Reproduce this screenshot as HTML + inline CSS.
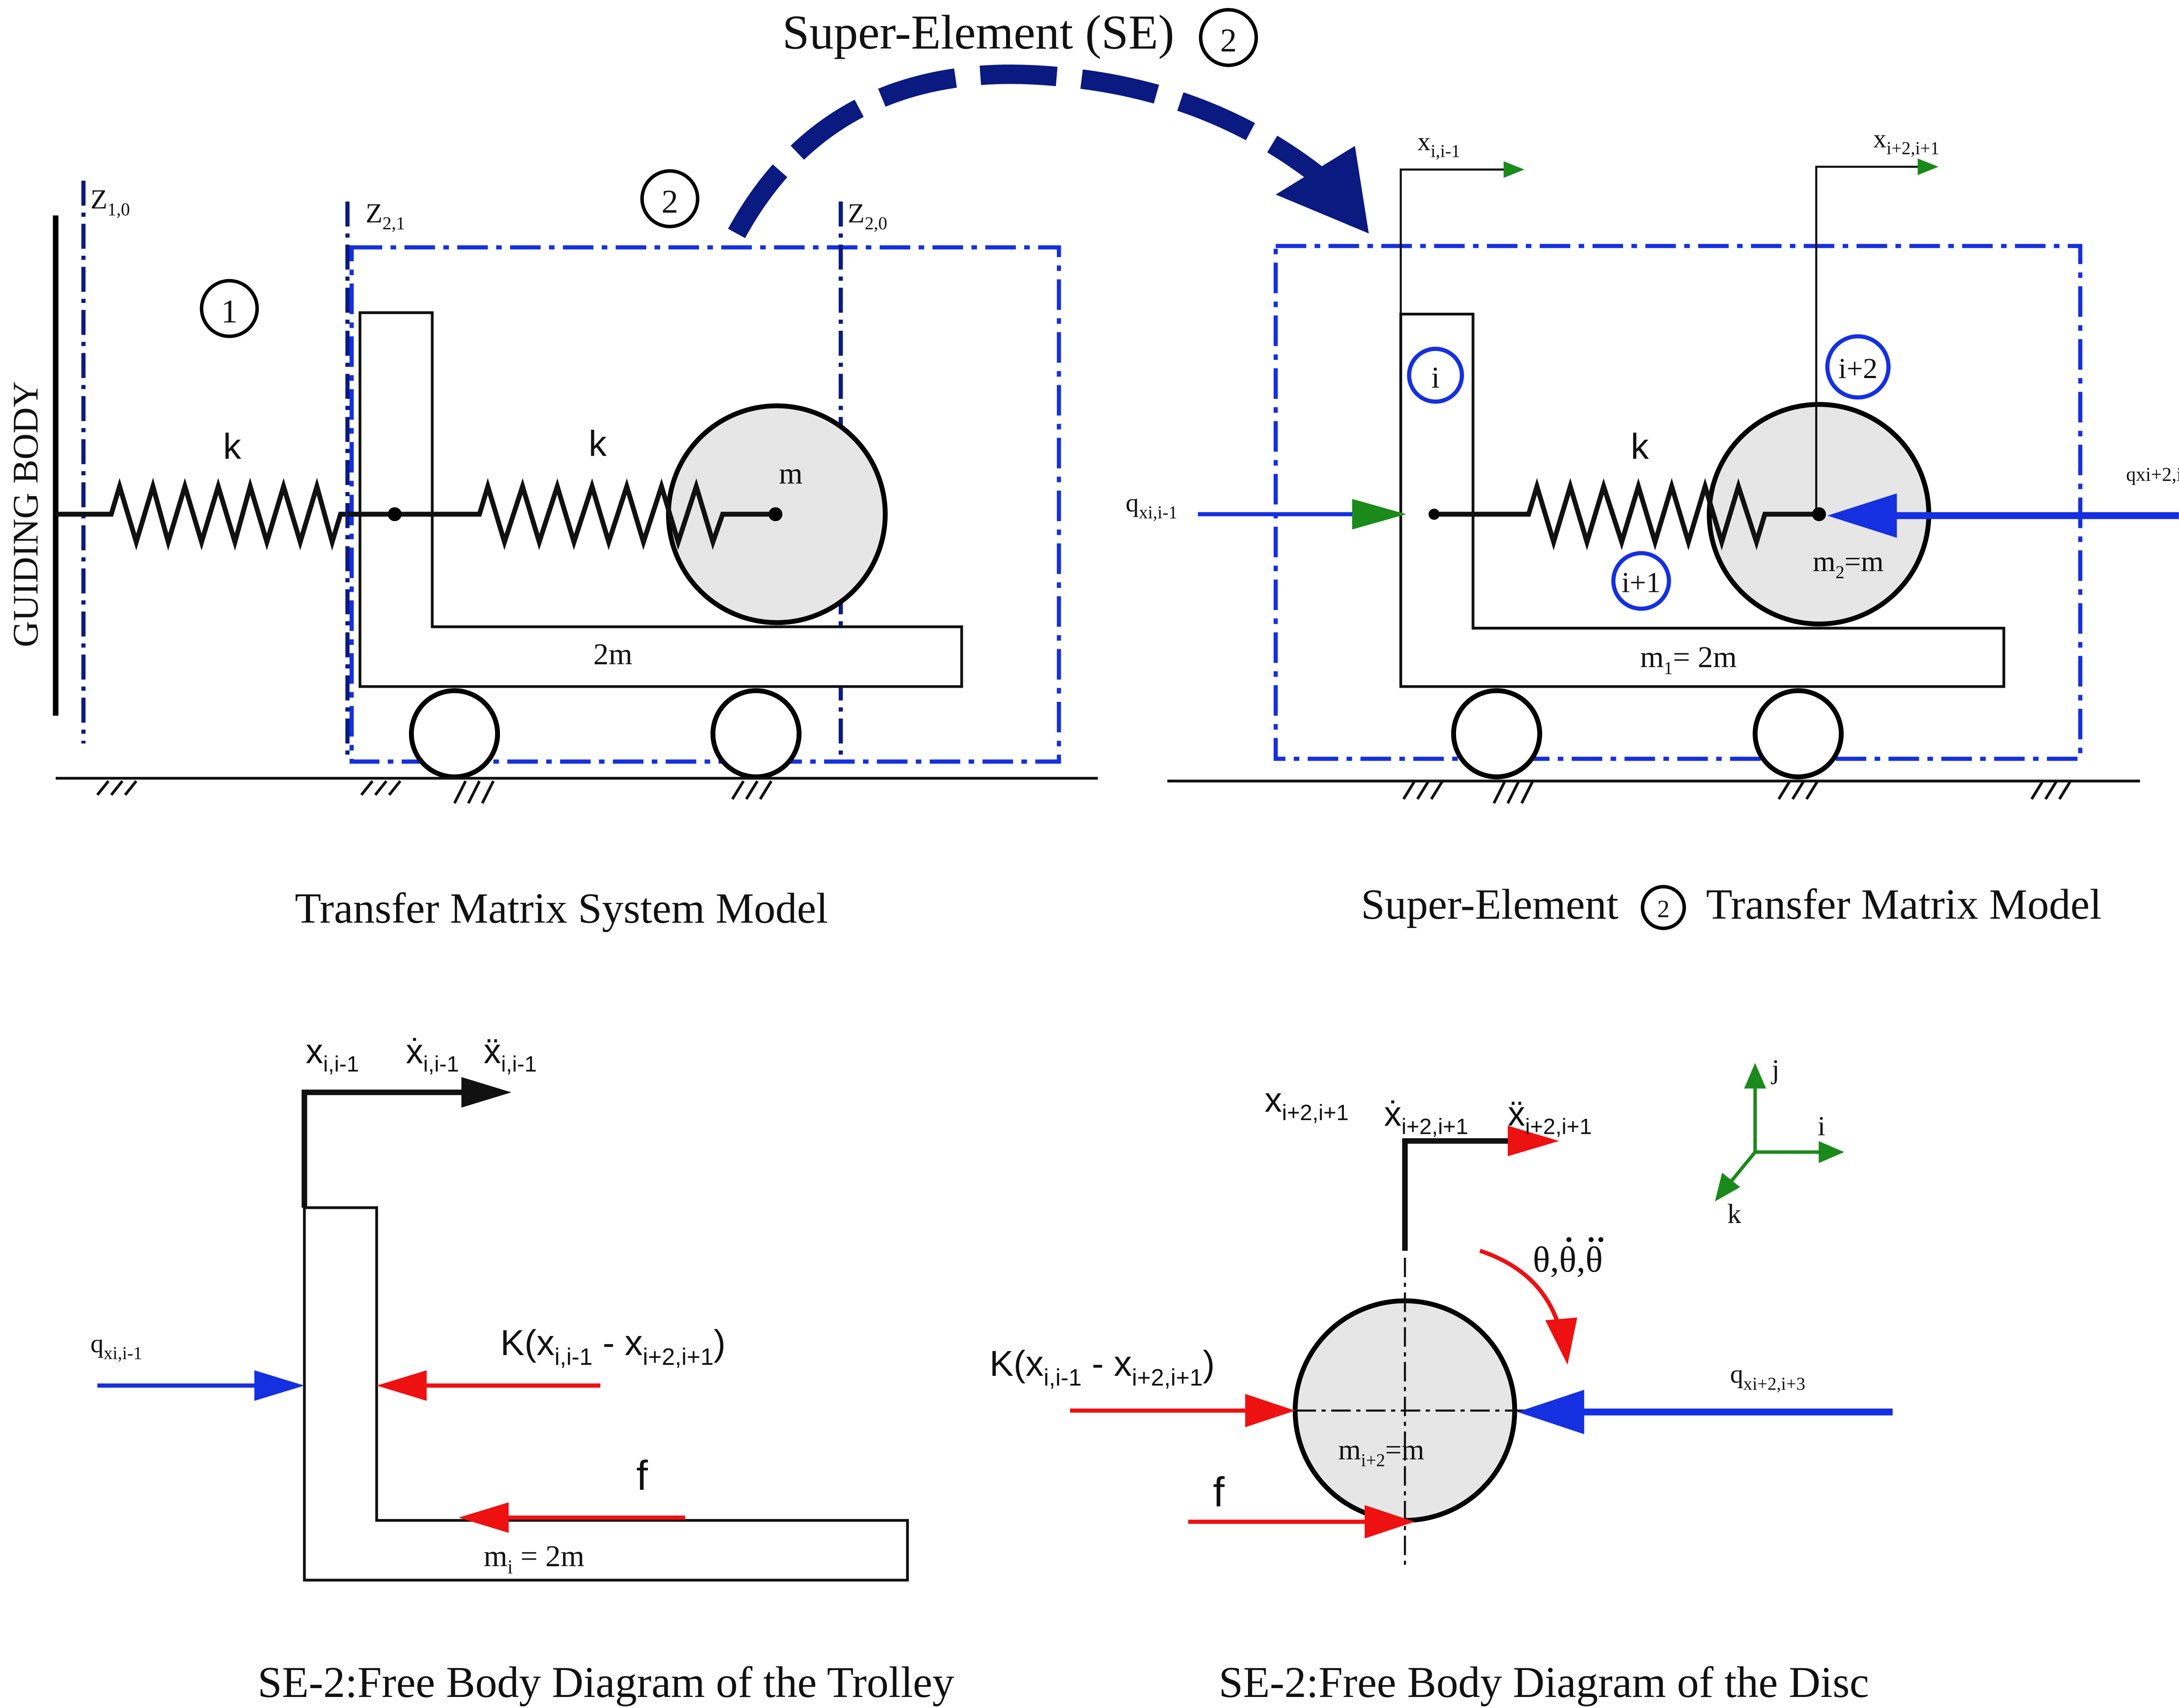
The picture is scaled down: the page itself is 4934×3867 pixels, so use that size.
<!DOCTYPE html>
<html><head><meta charset="utf-8"><style>
html,body{margin:0;padding:0;background:#fff}
svg{display:block}
text{font-family:"Liberation Serif",serif;fill:#111}
.s{font-family:"Liberation Sans",sans-serif}
</style></head><body>
<svg width="4934" height="3867" viewBox="0 0 1568 1229" xmlns="http://www.w3.org/2000/svg">
<rect width="1568" height="1229" fill="#fff"/>

<!-- Title -->
<text x="704" y="35" font-size="35" text-anchor="middle">Super-Element (SE)</text>
<circle cx="884" cy="27" r="20" fill="none" stroke="#000" stroke-width="2.5"/>
<text x="884" y="37" font-size="24" text-anchor="middle">2</text>
<path d="M530,168 Q600,40 760,55 Q880,65 965,140" fill="none" stroke="#0a1a80" stroke-width="14" stroke-dasharray="55,18"/>
<path d="M918,140 L985,168 L975,105 z" fill="#0a1a80"/>

<!-- ====== TOP LEFT ====== -->
<line x1="40" y1="155" x2="40" y2="515" stroke="#000" stroke-width="4"/>
<text transform="translate(27,370) rotate(-90)" font-size="26" text-anchor="middle">GUIDING  BODY</text>
<line x1="60" y1="130" x2="60" y2="535" stroke="#0a1a80" stroke-width="3" stroke-dasharray="18,5,3,5"/>
<text x="65" y="150" font-size="20">Z<tspan font-size="13" dy="5">1,0</tspan></text>
<polyline points="40,370 80,370 86,350 98,390 110,350 121,390 133,350 145,390 157,350 169,390 180,350 192,390 204,350 216,390 228,350 239,390 245,370 250,370" fill="none" stroke="#111" stroke-width="3.5"/>
<text x="167" y="330" font-size="26" class="s" text-anchor="middle">k</text>
<circle cx="165" cy="222" r="20" fill="none" stroke="#000" stroke-width="2.5"/>
<text x="165" y="232" font-size="24" text-anchor="middle">1</text>
<line x1="250" y1="145" x2="250" y2="548" stroke="#0a1a80" stroke-width="3" stroke-dasharray="18,5,3,5"/>
<text x="263" y="160" font-size="20">Z<tspan font-size="13" dy="5">2,1</tspan></text>
<rect x="253" y="178" width="509" height="370" fill="none" stroke="#1530e0" stroke-width="3" stroke-dasharray="22,6,4,6"/>
<line x1="605" y1="145" x2="605" y2="548" stroke="#0a1a80" stroke-width="3" stroke-dasharray="18,5,3,5"/>
<text x="610" y="160" font-size="20">Z<tspan font-size="13" dy="5">2,0</tspan></text>
<circle cx="482" cy="143" r="20" fill="none" stroke="#000" stroke-width="2.5"/>
<text x="482" y="153" font-size="24" text-anchor="middle">2</text>
<path d="M259,225 L311,225 L311,451 L692,451 L692,494 L259,494 Z" fill="#fff" stroke="#111" stroke-width="2"/>
<circle cx="559" cy="370" r="78" fill="#e6e6e6" stroke="#000" stroke-width="3.5"/>
<polyline points="250,370 345,370 351,350 363,390 376,350 388,390 401,350 413,390 426,350 438,390 451,350 463,390 476,350 488,390 501,350 513,390 520,370 558,370" fill="none" stroke="#111" stroke-width="3.5"/>
<circle cx="284" cy="370" r="5" fill="#000"/>
<circle cx="558" cy="370" r="5" fill="#000"/>
<text x="430" y="328" font-size="26" class="s" text-anchor="middle">k</text>
<text x="569" y="348" font-size="22" text-anchor="middle">m</text>
<text x="441" y="478" font-size="22" text-anchor="middle">2m</text>
<circle cx="327" cy="528" r="31" fill="#fff" stroke="#000" stroke-width="3.5"/>
<circle cx="544" cy="528" r="31" fill="#fff" stroke="#000" stroke-width="3.5"/>
<line x1="40" y1="560" x2="790" y2="560" stroke="#111" stroke-width="2"/>
<g stroke="#111" stroke-width="2">
<path d="M70,572 l8,-10 M80,572 l8,-10 M90,572 l8,-10 M260,572 l8,-10 M270,572 l8,-10 M280,572 l8,-10 M327,578 l8,-16 M337,578 l8,-16 M347,578 l8,-16 M527,575 l8,-13 M537,575 l8,-13 M547,575 l8,-13"/>
</g>
<text x="404" y="664" font-size="31" text-anchor="middle">Transfer Matrix System Model</text>

<!-- ====== TOP RIGHT ====== -->
<rect x="918" y="177" width="579" height="369" fill="none" stroke="#1530e0" stroke-width="3" stroke-dasharray="22,6,4,6"/>
<path d="M1008,226 L1060,226 L1060,452 L1442,452 L1442,494 L1008,494 Z" fill="#fff" stroke="#111" stroke-width="2"/>
<polyline points="1008,226 1008,122 1085,122" fill="none" stroke="#111" stroke-width="1.5"/>
<path d="M1082,116 L1097,122 L1082,128 z" fill="#1a8a1a"/>
<text x="1020" y="108" font-size="19">x<tspan font-size="13" dy="5">i,i-1</tspan></text>
<circle cx="1309" cy="370" r="79" fill="#e6e6e6" stroke="#000" stroke-width="3.5"/>
<polyline points="1307,370 1307,120 1383,120" fill="none" stroke="#111" stroke-width="1.5"/>
<path d="M1380,114 L1395,120 L1380,126 z" fill="#1a8a1a"/>
<text x="1348" y="106" font-size="19">x<tspan font-size="13" dy="5">i+2,i+1</tspan></text>
<polyline points="1030,370 1100,370 1106,350 1118,390 1130,350 1142,390 1154,350 1167,390 1179,350 1191,390 1203,350 1215,390 1227,350 1239,390 1251,350 1264,390 1270,370 1309,370" fill="none" stroke="#111" stroke-width="3.5"/>
<circle cx="1032" cy="370" r="4" fill="#000"/>
<circle cx="1309" cy="370" r="5" fill="#000"/>
<circle cx="1033" cy="270" r="19" fill="none" stroke="#1530e0" stroke-width="3"/>
<text x="1033" y="279" font-size="22" text-anchor="middle">i</text>
<circle cx="1337" cy="264" r="22" fill="none" stroke="#1530e0" stroke-width="3"/>
<text x="1337" y="272" font-size="21" text-anchor="middle">i+2</text>
<circle cx="1181" cy="418" r="20" fill="none" stroke="#1530e0" stroke-width="3"/>
<text x="1181" y="426" font-size="21" text-anchor="middle">i+1</text>
<text x="1180" y="330" font-size="26" class="s" text-anchor="middle">k</text>
<text x="1330" y="411" font-size="21" text-anchor="middle">m<tspan font-size="13" dy="5">2</tspan><tspan dy="-5">=m</tspan></text>
<text x="1215" y="480" font-size="22" text-anchor="middle">m<tspan font-size="13" dy="5">1</tspan><tspan dy="-5">= 2m</tspan></text>
<line x1="862" y1="370" x2="980" y2="370" stroke="#1530e0" stroke-width="3"/>
<path d="M973,359 L1012,370 L973,381 z" fill="#1a8a1a"/>
<text x="810" y="368" font-size="19">q<tspan font-size="13" dy="5">xi,i-1</tspan></text>
<line x1="1360" y1="371" x2="1568" y2="371" stroke="#1530e0" stroke-width="5"/>
<path d="M1365,355 L1315,371 L1365,387 z" fill="#1530e0"/>
<text x="1530" y="346" font-size="14">qxi+2,i+1</text>
<circle cx="1077" cy="528" r="31" fill="#fff" stroke="#000" stroke-width="3.5"/>
<circle cx="1294" cy="528" r="31" fill="#fff" stroke="#000" stroke-width="3.5"/>
<line x1="840" y1="562" x2="1540" y2="562" stroke="#111" stroke-width="2"/>
<g stroke="#111" stroke-width="2">
<path d="M1010,575 l8,-13 M1020,575 l8,-13 M1030,575 l8,-13 M1075,578 l8,-16 M1085,578 l8,-16 M1095,578 l8,-16 M1280,575 l8,-13 M1290,575 l8,-13 M1300,575 l8,-13 M1462,575 l8,-13 M1472,575 l8,-13 M1482,575 l8,-13"/>
</g>
<text x="1072" y="661" font-size="31" text-anchor="middle">Super-Element</text>
<circle cx="1197" cy="653" r="15" fill="none" stroke="#000" stroke-width="2.5"/>
<text x="1197" y="660" font-size="18" text-anchor="middle">2</text>
<text x="1370" y="661" font-size="31" text-anchor="middle">Transfer Matrix Model</text>

<!-- ====== BOTTOM LEFT ====== -->
<path d="M219,869 L271,869 L271,1094 L653,1094 L653,1137 L219,1137 Z" fill="#fff" stroke="#111" stroke-width="2"/>
<polyline points="219,869 219,786 340,786" fill="none" stroke="#111" stroke-width="4"/>
<path d="M332,775 L368,786 L332,797 z" fill="#111"/>
<text x="220" y="765" font-size="25" class="s">x<tspan font-size="16" dy="6">i,i-1</tspan></text>
<text x="292" y="765" font-size="25" class="s">ẋ<tspan font-size="16" dy="6">i,i-1</tspan></text>
<text x="348" y="765" font-size="25" class="s">ẍ<tspan font-size="16" dy="6">i,i-1</tspan></text>
<text x="65" y="973" font-size="19">q<tspan font-size="13" dy="5">xi,i-1</tspan></text>
<line x1="70" y1="997" x2="190" y2="997" stroke="#1530e0" stroke-width="3"/>
<path d="M183,986 L219,997 L183,1008 z" fill="#1530e0"/>
<text x="360" y="975" font-size="26" class="s">K(x<tspan font-size="17" dy="7">i,i-1</tspan><tspan dy="-7"> - x</tspan><tspan font-size="17" dy="7">i+2,i+1</tspan><tspan dy="-7">)</tspan></text>
<line x1="300" y1="997" x2="432" y2="997" stroke="#ee1111" stroke-width="3"/>
<path d="M307,986 L271,997 L307,1008 z" fill="#ee1111"/>
<text x="462" y="1072" font-size="30" class="s" text-anchor="middle">f</text>
<line x1="360" y1="1092" x2="493" y2="1092" stroke="#ee1111" stroke-width="3"/>
<path d="M366,1081 L330,1092 L366,1103 z" fill="#ee1111"/>
<text x="348" y="1127" font-size="22">m<tspan font-size="14" dy="5">i</tspan><tspan dy="-5"> = 2m</tspan></text>
<text x="436" y="1221" font-size="31.5" text-anchor="middle">SE-2:Free Body Diagram of the Trolley</text>

<!-- ====== BOTTOM RIGHT ====== -->
<circle cx="1011" cy="1015" r="79" fill="#e6e6e6" stroke="#000" stroke-width="3.5"/>
<line x1="1011" y1="905" x2="1011" y2="1130" stroke="#111" stroke-width="1.5" stroke-dasharray="14,4,3,4"/>
<line x1="908" y1="1015" x2="1115" y2="1015" stroke="#111" stroke-width="1.5" stroke-dasharray="14,4,3,4"/>
<polyline points="1011,900 1011,821 1090,821" fill="none" stroke="#111" stroke-width="4"/>
<path d="M1085,810 L1122,821 L1085,832 z" fill="#ee1111"/>
<text x="910" y="800" font-size="25" class="s">x<tspan font-size="16" dy="6">i+2,i+1</tspan></text>
<text x="996" y="810" font-size="25" class="s">ẋ<tspan font-size="16" dy="6">i+2,i+1</tspan></text>
<text x="1085" y="810" font-size="25" class="s">ẍ<tspan font-size="16" dy="6">i+2,i+1</tspan></text>
<path d="M1065,900 Q1110,915 1122,955" fill="none" stroke="#ee1111" stroke-width="3"/>
<path d="M1112,950 L1128,982 L1135,948 z" fill="#ee1111"/>
<text x="1103" y="915" font-size="26">θ,θ,θ</text>
<circle cx="1129" cy="892" r="1.8" fill="#111"/>
<circle cx="1145" cy="892" r="1.8" fill="#111"/>
<circle cx="1152" cy="892" r="1.8" fill="#111"/>
<g stroke="#1a8a1a" stroke-width="2.5" fill="#1a8a1a">
<line x1="1263" y1="829" x2="1263" y2="780"/><path d="M1257,782 L1263,768 L1269,782 z"/>
<line x1="1263" y1="829" x2="1312" y2="829"/><path d="M1310,823 L1324,829 L1310,835 z"/>
<line x1="1263" y1="829" x2="1245" y2="851"/><path d="M1240,846 L1236,862 L1250,854 z"/>
</g>
<text x="1275" y="776" font-size="20">j</text>
<text x="1308" y="817" font-size="20">i</text>
<text x="1243" y="880" font-size="20">k</text>
<text x="712" y="990" font-size="26" class="s">K(x<tspan font-size="17" dy="7">i,i-1</tspan><tspan dy="-7"> - x</tspan><tspan font-size="17" dy="7">i+2,i+1</tspan><tspan dy="-7">)</tspan></text>
<line x1="770" y1="1015" x2="900" y2="1015" stroke="#ee1111" stroke-width="3"/>
<path d="M896,1003 L932,1015 L896,1027 z" fill="#ee1111"/>
<text x="1245" y="995" font-size="19">q<tspan font-size="13" dy="5">xi+2,i+3</tspan></text>
<line x1="1135" y1="1016" x2="1362" y2="1016" stroke="#1530e0" stroke-width="5"/>
<path d="M1140,1000 L1092,1016 L1140,1032 z" fill="#1530e0"/>
<text x="877" y="1084" font-size="30" class="s" text-anchor="middle">f</text>
<line x1="855" y1="1095" x2="985" y2="1095" stroke="#ee1111" stroke-width="3"/>
<path d="M982,1083 L1018,1095 L982,1107 z" fill="#ee1111"/>
<text x="963" y="1050" font-size="21">m<tspan font-size="13" dy="5">i+2</tspan><tspan dy="-5">=m</tspan></text>
<text x="1111" y="1221" font-size="31.5" text-anchor="middle">SE-2:Free Body Diagram of the Disc</text>
</svg>
</body></html>
